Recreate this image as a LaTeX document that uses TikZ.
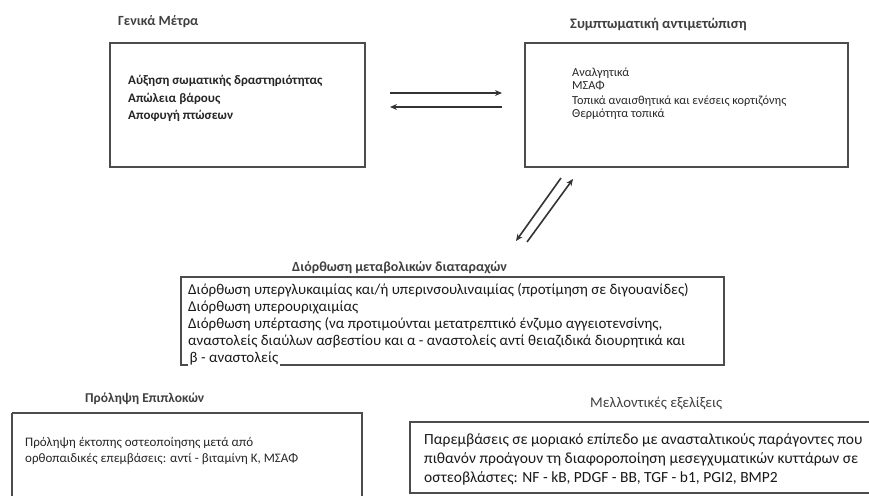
\documentclass[tikz,border=0pt]{standalone}
\usepackage{fontspec}
\setmainfont{Carlito}
\usetikzlibrary{arrows.meta}
\tikzset{
  boxline/.style={draw=black!70, line width=1.3pt},
  ttl/.style={anchor=base west, inner sep=0pt, text=black!75, font=\fontsize{14.5}{17}\selectfont\bfseries},
  ttlr/.style={anchor=base west, inner sep=0pt, text=black!75, font=\fontsize{14.8}{17}\selectfont},
  bigtxt/.style={anchor=base west, inner sep=0pt, text=black!85, font=\fontsize{13}{16}\selectfont\bfseries},
  smalltxt/.style={anchor=base west, inner sep=0pt, text=black!85, font=\fontsize{12.3}{14}\selectfont},
  midtxt/.style={anchor=base west, inner sep=0pt, text=black!90, font=\fontsize{15}{17}\selectfont},
  brtxt/.style={anchor=base west, inner sep=0pt, text=black!90, font=\fontsize{15.5}{18}\selectfont},
  bltxt/.style={anchor=base west, inner sep=0pt, text=black!85, font=\fontsize{13}{16}\selectfont},
  arr/.style={draw=black!80, line width=1.6pt, -{Stealth[length=7pt,width=6pt]}},
}
\begin{document}
\begin{tikzpicture}[x=1pt,y=-1pt]
\useasboundingbox (0,0) rectangle (869,495);
% top left
\node[ttl, font=\fontsize{14}{17}\selectfont\bfseries] (tL) at (118,26) {Γενικά Μέτρα};
\draw[boxline] (110,43) rectangle (365,167);
\node[bigtxt] (l1) at (128,84) {Αύξηση σωματικής δραστηριότητας};
\node[bigtxt] (l2) at (128,102) {Απώλεια βάρους};
\node[bigtxt] (l3) at (128,119) {Αποφυγή πτώσεων};
% top right
\node[ttl] (tR) at (570,29) {Συμπτωματική αντιμετώπιση};
\draw[boxline] (525,43) rectangle (848,167);
\node[smalltxt] (r1) at (572,76) {Αναλγητικά};
\node[smalltxt] (r2) at (572,89) {ΜΣΑΦ};
\node[smalltxt] (r3) at (572,104) {Τοπικά αναισθητικά και ενέσεις κορτιζόνης};
\node[smalltxt] (r4) at (572,117) {Θερμότητα τοπικά};
% horizontal arrows
\coordinate (h1a) at (390,93); \coordinate (h1b) at (502,93);
\coordinate (h2a) at (502,107); \coordinate (h2b) at (390,107);
\draw[arr] (h1a) -- (h1b);
\draw[arr] (h2a) -- (h2b);
% diagonal arrows
\coordinate (d1a) at (561,178); \coordinate (d1b) at (516,241);
\coordinate (d2a) at (527,242); \coordinate (d2b) at (573,179);
\draw[arr] (d1a) -- (d1b);
\draw[arr] (d2a) -- (d2b);
% middle
\node[ttl, font=\fontsize{14}{17}\selectfont\bfseries] (tM) at (292,271) {Διόρθωση μεταβολικών διαταραχών};
\draw[boxline] (181,277) rectangle (724,365);
\node[midtxt] (m1) at (188,294) {Διόρθωση υπεργλυκαιμίας και/ή υπερινσουλιναιμίας (προτίμηση σε διγουανίδες)};
\node[midtxt] (m2) at (188,311) {Διόρθωση υπερουριχαιμίας};
\node[midtxt] (m3) at (188,328) {Διόρθωση υπέρτασης (να προτιμούνται μετατρεπτικό ένζυμο αγγειοτενσίνης,};
\node[midtxt] (m4) at (188,345) {αναστολείς διαύλων ασβεστίου και α - αναστολείς αντί θειαζιδικά διουρητικά και};
\node[midtxt, fill=white, inner xsep=1.5pt, inner ysep=2.5pt] (m5) at (188,362) {β - αναστολείς};
% bottom left
\node[ttl, font=\fontsize{13.5}{17}\selectfont\bfseries] (tBL) at (85,402) {Πρόληψη Επιπλοκών};
\draw[boxline] (12,413) -- (12,500) (12,413) -- (362,413) -- (362,500);
\node[bltxt] (b1) at (25,446) {Πρόληψη έκτοπης οστεοποίησης μετά από};
\node[bltxt] (b2) at (25,462) {ορθοπαιδικές επεμβάσεις: αντί - βιταμίνη Κ, ΜΣΑΦ};
% bottom right
\node[ttlr] (tBR) at (590,407) {Μελλοντικές εξελίξεις};
\draw[boxline] (880,422) -- (410,422) -- (410,493) -- (880,493);
\node[brtxt] (c1) at (424,444) {Παρεμβάσεις σε μοριακό επίπεδο με ανασταλτικούς παράγοντες που};
\node[brtxt] (c2) at (424,463) {πιθανόν προάγουν τη διαφοροποίηση μεσεγχυματικών κυττάρων σε};
\node[brtxt] (c3) at (424,482) {οστεοβλάστες: NF - kB, PDGF - BB, TGF - b1, PGI2, BMP2};
\end{tikzpicture}
\end{document}
